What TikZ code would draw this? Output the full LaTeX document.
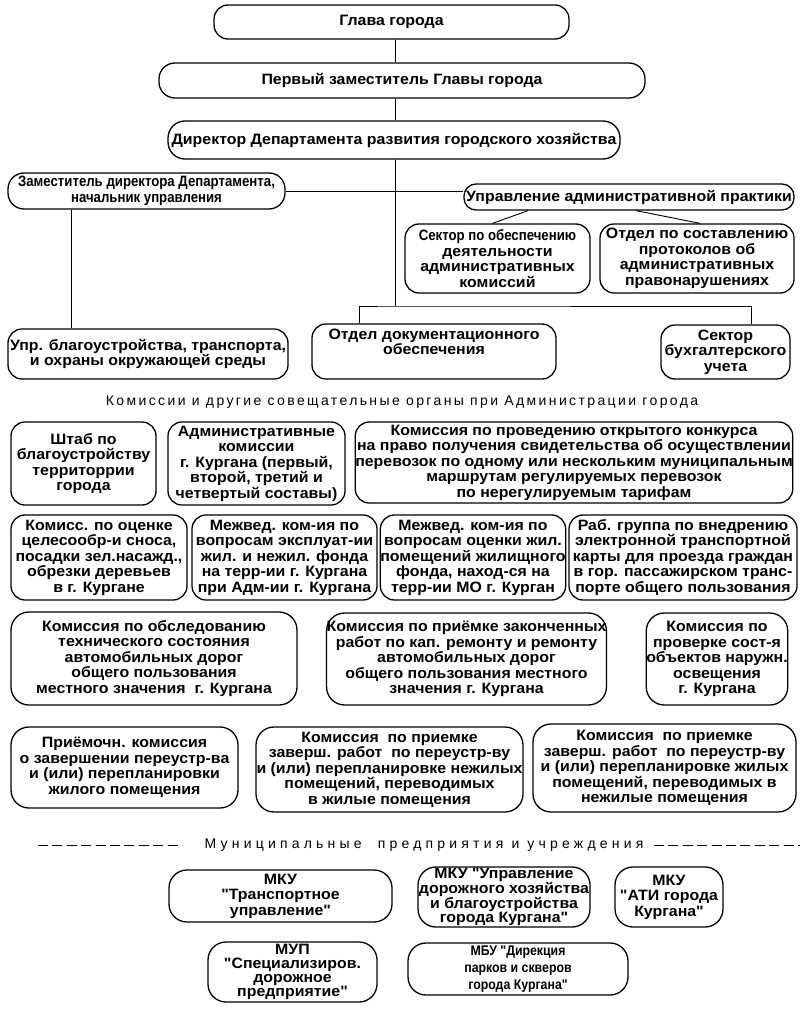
\documentclass[tikz,border=0pt]{standalone}
\usepackage{fontspec}
\setmainfont{Liberation Sans}
\newfontfamily\boxf{Liberation Sans}[FakeStretch=1.06]
\newfontfamily\narrowf{Liberation Sans Bold}[FakeStretch=0.88]
\newfontfamily\spacedA{Liberation Sans}[LetterSpace=17]
\newfontfamily\spacedB{Liberation Sans}[LetterSpace=30]
\begin{document}
\begin{tikzpicture}[x=1pt,y=-1pt,
  box/.style={draw, line width=1.3pt, rounded corners=14pt, align=center, inner sep=0pt,
    font=\fontsize{15}{15.5}\selectfont\boxf\bfseries},
  bx/.style 2 args={box, minimum width=#1pt, minimum height=#2pt},
  conn/.style={line width=0.9pt},
  dashl/.style={line width=0.9pt, dash pattern=on 10pt off 4.4pt},
  ttl/.style={inner sep=0pt}]
\useasboundingbox (0,0) rectangle (800,1014);
\fill[white] (0,0) rectangle (800,1014);

% top hierarchy
\node[bx={355}{34}] (glava) at (391.5,22) {Глава города};
\node[bx={486}{35}, rounded corners=16pt] (perv) at (402,80.5) {Первый заместитель Главы города};
\node[bx={452}{38}, rounded corners=17pt] (dir) at (394,140) {Директор Департамента развития городского хозяйства};
\node[bx={277}{36}, rounded corners=16pt, font=\fontsize{15}{15.5}\selectfont\narrowf] (zam) at (146.5,191) {Заместитель директора Департамента,\\начальник управления};
\node[bx={330}{26}, rounded corners=12pt] (upr) at (629,197) {Управление административной практики};
\node[bx={185}{69}] (sek1) at (497.5,258.5) {{\narrowf Сектор по обеспечению}\\деятельности\\административных\\комиссий};
\node[bx={194}{69}] (otd1) at (697,258.5) {Отдел по составлению\\протоколов об\\административных\\правонарушениях};
\node[bx={280}{50}] (ublag) at (148,354) {Упр. благоустройства, транспорта,\\и охраны окружающей среды};
\node[bx={244}{55}] (otddoc) at (434,351.5) {Отдел документационного\\обеспечения\\[4pt]};
\node[bx={129}{54}] (sekbuh) at (725.5,352) {Сектор\\бухгалтерского\\учета};
\coordinate (bus) at (395,306);

\draw[conn] (glava.south -| bus) -- (perv.north -| bus);
\draw[conn] (perv.south -| bus) -- (dir.north -| bus);
\draw[conn] (dir.south -| bus) -- (bus);
\draw[conn] (zam.east) -- (zam.east -| upr.west);
\draw[conn] ([xshift=-75pt]zam.south) -- ([xshift=-75pt]zam.south |- ublag.north);
\draw[conn] ([xshift=-101pt]upr.south) -- ([xshift=-5pt]sek1.north);
\draw[conn] ([xshift=7pt]upr.south) -- ([xshift=3pt]otd1.north);
\draw[conn] ([xshift=-75pt]otddoc.north) |- (bus) -| ([xshift=25.5pt]sekbuh.north);

% commissions
\node[ttl] (t1) at (402,402) {\fontsize{14}{16}\selectfont\spacedA Комиссии и другие совещательные органы при Администрации города};

\node[bx={145}{83}] (c1) at (83.5,463.5) {Штаб по\\благоустройству\\территоррии\\города};
\node[bx={177}{83}] (c2) at (256.5,463.5) {Административные\\комиссии\\г. Кургана (первый,\\второй, третий и\\четвертый составы)};
\node[bx={436}{81}] (c3) at (574,462.5) {Комиссия по проведению открытого конкурса\\на право получения свидетельства об осуществлении\\перевозок по одному или нескольким муниципальным\\маршрутам регулируемых перевозок\\по нерегулируемым тарифам};

\node[bx={176}{85}] (c4) at (99,557.5) {Комисс. по оценке\\целесообр-и сноса,\\посадки зел.насажд.,\\обрезки деревьев\\в г. Кургане};
\node[bx={185}{85}] (c5) at (284.5,557.5) {Межвед. ком-ия по\\вопросам эксплуат-ии\\жил. и нежил. фонда\\на терр-ии г. Кургана\\при Адм-ии г. Кургана};
\node[bx={182}{85}] (c6) at (473,557.5) {Межвед. ком-ия по\\вопросам оценки жил.\\помещений жилищного\\фонда, наход-ся на\\терр-ии МО г. Курган};
\node[bx={228}{85}] (c7) at (683,557.5) {Раб. группа по внедрению\\электронной транспортной\\карты для проезда граждан\\в гор. пассажирском транс-\\порте общего пользования};

\node[bx={286}{93}, rounded corners=18pt] (c8) at (154,658.5) {Комиссия по обследованию\\технического состояния\\автомобильных дорог\\общего пользования\\местного значения \ г. Кургана};
\node[bx={277}{92}, rounded corners=18pt] (c9) at (466.5,659) {Комиссия по приёмке законченных\\работ по кап. ремонту и ремонту\\автомобильных дорог\\общего пользования местного\\значения г. Кургана};
\node[bx={140}{92}, rounded corners=18pt] (c10) at (717,659) {Комиссия по\\проверке сост-я\\объектов наружн.\\освещения\\г. Кургана};

\node[bx={227}{81}, rounded corners=18pt] (c11) at (124.5,767.5) {Приёмочн. комиссия\\о завершении переустр-ва\\и (или) перепланировки\\жилого помещения};
\node[bx={267}{85}, rounded corners=18pt] (c12) at (389.5,769.5) {Комиссия \ по приемке\\заверш. работ \ по переустр-ву\\и (или) перепланировке нежилых\\помещений, переводимых\\в жилые помещения};
\node[bx={263}{88}, rounded corners=18pt] (c13) at (664.5,768) {Комиссия \ по приемке\\заверш. работ \ по переустр-ву\\и (или) перепланировке жилых\\помещений, переводимых в\\нежилые помещения};

% municipal
\node[ttl] (t2) at (424,845) {\fontsize{14}{16}\selectfont\spacedB Муниципальные\ \ предприятия и учреждения};
\coordinate (d1a) at (38,845);
\coordinate (d1b) at (182,845);
\coordinate (d2a) at (654,845);
\coordinate (d2b) at (800,845);
\draw[dashl] (d1a) -- (d1b);
\draw[dashl] (d2a) -- (d2b);

\node[bx={223}{52}, rounded corners=18pt] (m1) at (280.5,896) {МКУ\\"Транспортное\\управление"};
\node[bx={172}{60}, rounded corners=18pt, font=\fontsize{15}{14}\selectfont\boxf\bfseries] (m2) at (504,897) {МКУ "Управление\\дорожного хозяйства\\и благоустройства\\города Кургана"};
\node[bx={108}{60}, rounded corners=18pt] (m3) at (669,897) {МКУ\\"АТИ города\\Кургана"};
\node[bx={169}{60}, rounded corners=18pt, font=\fontsize{15}{14}\selectfont\boxf\bfseries] (m4) at (292.5,972) {МУП\\"Специализиров.\\дорожное\\предприятие"};
\node[bx={220}{52}, rounded corners=18pt, font=\fontsize{14}{17}\selectfont\narrowf] (m5) at (518,969) {МБУ "Дирекция\\парков и скверов\\города Кургана"};
\end{tikzpicture}
\end{document}
